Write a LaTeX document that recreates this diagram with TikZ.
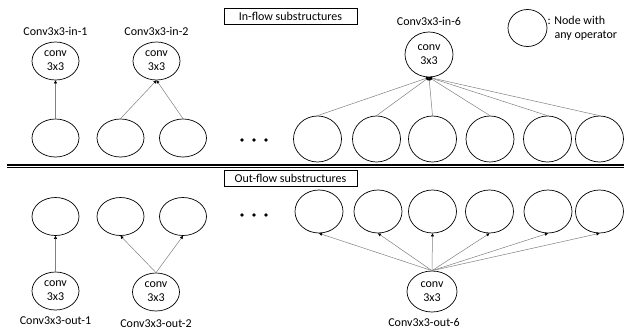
\documentclass[tikz,border=0pt]{standalone}
\usepackage{fontspec}
\setmainfont{Carlito}
\usetikzlibrary{shapes.geometric,arrows.meta,positioning}

\begin{document}
\begin{tikzpicture}[x=1pt, y=-1pt,
    font=\fontsize{12}{14}\selectfont,
    opnode/.style={draw, line width=0.7pt, ellipse, inner sep=0pt, minimum width=47pt, minimum height=38pt, align=center},
    bignode/.style={opnode, minimum width=48pt, minimum height=46pt},
    lbl/.style={inner sep=0pt},
    titlebox/.style={draw, line width=0.6pt, minimum width=133pt, minimum height=16pt, inner sep=1pt},
    arr/.style={-{Triangle[black, length=3pt, width=3pt]}, gray, line width=0.5pt}
]
\useasboundingbox (0,0) rectangle (624,335);

% Section titles
\node[titlebox] (intitle) at (290.5,16) {In-flow substructures};
\node[titlebox] (outtitle) at (290.5,178) {Out-flow substructures};

% Divider
\draw[line width=1.6pt] (7,165) -- (624,165);
\draw[line width=0.6pt] (7,167.2) -- (624,167.2);

% Legend
\node[opnode, minimum width=39pt, minimum height=37pt] (key) at (527.5,28) {};
\node[lbl, anchor=west, align=left] (keytext) at (key.east) {: Node with\\\hspace*{7pt}any operator};

% In-flow: conv nodes
\node[opnode] (in1) at (55.5,61) {conv\\3x3};
\node[opnode] (in2) at (156.5,61) {conv\\3x3};
\node[opnode, minimum width=48pt, minimum height=45pt] (in6) at (429,54.5) {conv\\3x3};
\node[lbl, above=6pt of in1] (in1lbl) {Conv3x3-in-1};
\node[lbl, above=6pt of in2] (in2lbl) {Conv3x3-in-2};
\node[lbl, above=6pt of in6] (in6lbl) {Conv3x3-in-6};

% In-flow: input nodes
\node[opnode] (in1a) at (55.5,138) {};
\node[opnode] (in2a) at (120.5,138) {};
\node[opnode] (in2b) at (183,138) {};
\foreach \n/\x in {a/317.5, b/376.5, c/432.5, d/490, e/547.5, f/599.5}
    \node[bignode] (in6\n) at (\x,139) {};

% In-flow: edges
\draw[arr] (in1a) -- (in1);
\draw[arr] (in2a.north) -- (in2.south);
\draw[arr] (in2b.north) -- (in2.south);
\foreach \n in {a,b,c,d,e,f}
    \draw[arr] (in6\n.north) -- (in6.south);

% Dots
\foreach \x in {242,254,266}
    \fill (\x,140) circle (1.8pt);
\foreach \x in {242,254,266}
    \fill (\x,215) circle (1.8pt);

% Out-flow: output nodes
\node[opnode] (out1a) at (55.5,216.5) {};
\node[opnode] (out2a) at (120.5,216.5) {};
\node[opnode] (out2b) at (183,216.5) {};
\foreach \n/\x in {a/319, b/378, c/432.5, d/489.5, e/548, f/599.5}
    \node[opnode, minimum width=48pt, minimum height=43pt] (out6\n) at (\x,211.5) {};

% Out-flow: conv nodes
\node[opnode] (out1) at (55.5,291) {conv\\3x3};
\node[opnode] (out2) at (156,292) {conv\\3x3};
\node[opnode, minimum width=50pt, minimum height=41pt] (out6) at (432,291.5) {conv\\3x3};
\node[lbl, below=6pt of out1] (out1lbl) {Conv3x3-out-1};
\node[lbl, below=8pt of out2] (out2lbl) {Conv3x3-out-2};
\node[lbl, below=6pt of out6, xshift=-8pt] (out6lbl) {Conv3x3-out-6};

% Out-flow: edges
\draw[arr] (out1) -- (out1a);
\draw[arr] (out2.north) -- (out2a.south);
\draw[arr] (out2.north) -- (out2b.south);
\foreach \n in {a,b,c,d,e,f}
    \draw[arr] (out6.north) -- (out6\n.south);

\end{tikzpicture}
\end{document}
